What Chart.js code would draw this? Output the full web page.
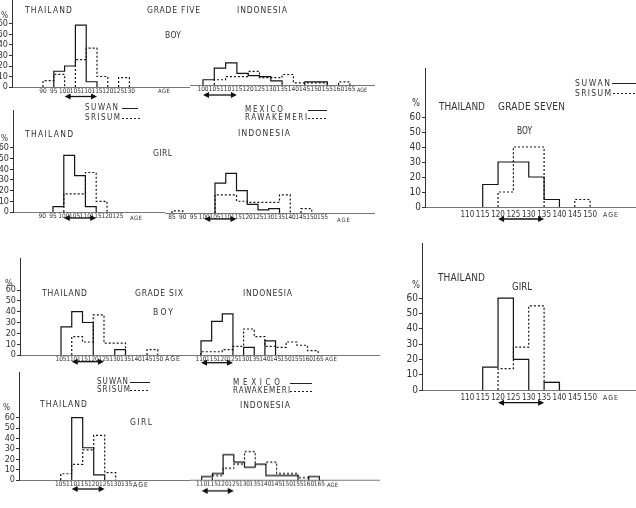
<!DOCTYPE html>
<html><head><meta charset="utf-8">
<script src="https://cdn.jsdelivr.net/npm/chart.js@4"></script>
<style>
html,body{margin:0;padding:0;background:#fff;}
#stage{position:relative;width:636px;height:508px;overflow:hidden;background:#fff;}
#stage canvas{position:absolute;}
.t{position:absolute;white-space:nowrap;color:#333;font-family:'DejaVu Sans Condensed','Liberation Sans Narrow','DejaVu Sans',sans-serif;transform-origin:0 50%;}
.ln{position:absolute;height:1px;background:#222;}
.ln.dot{background:repeating-linear-gradient(90deg,#222 0 2px,transparent 2px 4px);}
</style></head><body><div id="stage"></div>
<script>
// ---------------- DATA ----------------
const yTickValues = [0,10,20,30,40,50,60];

// Grade five, Thailand, boy
const g5ThBoyBins   = [90,95,100,105,110,115,120,125];
const g5ThBoySuwan  = [0,15,20,59,5,0,0,0];
const g5ThBoySrisum = [6,12,0,26,37,10,0,9];
const g5ThBoyTicks  = [90,95,100,105,110,115,120,125,130];
const g5ThBoyRange  = [100,115];

// Grade five, Indonesia, boy
const g5IdBoyBins   = [100,105,110,115,120,125,130,135,140,145,150,155,160];
const g5IdBoyMexico = [5,16,21,11,9,8,4,0,0,3,3,0,0];
const g5IdBoyRawa   = [0,5,8,8,13,7,7,10,2,2,2,0,3];
const g5IdBoyTicks  = [100,105,110,115,120,125,130,135,140,145,150,155,160,165];
const g5IdBoyRange  = [100,115];

// Grade five, Thailand, girl
const g5ThGirlBins   = [95,100,105,110,115];
const g5ThGirlSuwan  = [5,53,34,5,0];
const g5ThGirlSrisum = [0,17,17,37,10];
const g5ThGirlTicks  = [90,95,100,105,110,115,120,125];
const g5ThGirlRange  = [100,115];

// Grade five, Indonesia, girl
const g5IdGirlBins   = [85,90,95,100,105,110,115,120,125,130,135,140,145];
const g5IdGirlMexico = [0,0,0,0,28,37,21,8,3,4,0,0,0];
const g5IdGirlRawa   = [2,0,0,0,17,17,11,10,10,10,17,0,4];
const g5IdGirlTicks  = [85,90,95,100,105,110,115,120,125,130,135,140,145,150,155];
const g5IdGirlRange  = [100,115];

// Grade six, Thailand, boy
const g6ThBoyBins   = [105,110,115,120,125,130,135,140,145];
const g6ThBoySuwan  = [26,40,30,0,0,5,0,0,0];
const g6ThBoySrisum = [0,17,12,37,11,11,0,0,5];
const g6ThBoyTicks  = [105,110,115,120,125,130,135,140,145,150];
const g6ThBoyRange  = [110,125];

// Grade six, Indonesia, boy
const g6IdBoyBins   = [110,115,120,125,130,135,140,145,150,155,160];
const g6IdBoyMexico = [13,31,38,0,7,0,13,0,0,0,0];
const g6IdBoyRawa   = [3,3,5,8,24,17,8,7,12,9,4];
const g6IdBoyTicks  = [110,115,120,125,130,135,140,145,150,155,160,165];
const g6IdBoyRange  = [110,125];

// Grade six, Thailand, girl
const g6ThGirlBins   = [105,110,115,120,125];
const g6ThGirlSuwan  = [0,60,31,5,0];
const g6ThGirlSrisum = [6,15,29,43,7];
const g6ThGirlTicks  = [105,110,115,120,125,130,135];
const g6ThGirlRange  = [110,125];

// Grade six, Indonesia, girl
const g6IdGirlBins   = [110,115,120,125,130,135,140,145,150,155,160];
const g6IdGirlMexico = [3,6,24,17,12,15,4,4,4,0,3];
const g6IdGirlRawa   = [0,4,11,15,27,15,17,6,6,2,0];
const g6IdGirlTicks  = [110,115,120,125,130,135,140,145,150,155,160,165];
const g6IdGirlRange  = [110,125];

// Grade seven, Thailand, boy
const g7ThBoyBins   = [115,120,125,130,135,140,145];
const g7ThBoySuwan  = [15,30,30,20,5,0,0];
const g7ThBoySrisum = [0,10,40,40,0,0,5];
const g7ThBoyTicks  = [110,115,120,125,130,135,140,145,150];
const g7ThBoyRange  = [120,135];

// Grade seven, Thailand, girl
const g7ThGirlBins   = [115,120,125,130,135];
const g7ThGirlSuwan  = [15,60,20,0,5];
const g7ThGirlSrisum = [0,14,28,55,5];
const g7ThGirlTicks  = [110,115,120,125,130,135,140,145,150];
const g7ThGirlRange  = [120,135];

// ---------------- RENDERING ----------------
const FONT = "'DejaVu Sans Condensed','Liberation Sans Narrow','DejaVu Sans',sans-serif";
Chart.defaults.font.family = FONT;
Chart.defaults.color = '#333';
const stage = document.getElementById('stage');
const PAD_TOP = 8;

const arrowPlugin = {
  id: 'rangeArrow',
  afterDraw(chart, args, opts) {
    if (!opts || !opts.range) return;
    const x = chart.scales.x, ctx = chart.ctx;
    const y = chart.chartArea.bottom + opts.offset;
    const a = x.getPixelForValue(opts.range[0]), b = x.getPixelForValue(opts.range[1]);
    ctx.save();
    ctx.strokeStyle = '#111'; ctx.fillStyle = '#111'; ctx.lineWidth = 1.3;
    ctx.beginPath(); ctx.moveTo(a + 3, y); ctx.lineTo(b - 3, y); ctx.stroke();
    ctx.beginPath(); ctx.moveTo(a, y); ctx.lineTo(a + 6, y - 3); ctx.lineTo(a + 6, y + 3); ctx.closePath(); ctx.fill();
    ctx.beginPath(); ctx.moveTo(b, y); ctx.lineTo(b - 6, y - 3); ctx.lineTo(b - 6, y + 3); ctx.closePath(); ctx.fill();
    ctx.restore();
  }
};
Chart.register(arrowPlugin);

function stepData(bins, vals) {
  const pts = []; let i = 0;
  while (i < vals.length) {
    if (!vals[i]) { i++; continue; }
    pts.push({x: bins[i], y: 0});
    while (i < vals.length && vals[i]) { pts.push({x: bins[i], y: vals[i]}); i++; }
    const end = bins[i - 1] + 5;
    pts.push({x: end, y: 0});
    pts.push({x: end, y: null});
  }
  return pts;
}

function panel(p) {
  const W = p.axisX - p.left;
  const top = p.chartTop - PAD_TOP;
  const h = p.base - top + p.H;
  const xMin = p.refVal - (p.refPx - p.axisX) / p.ppu;
  const xMax = xMin + (p.left + p.w - p.axisX) / p.ppu;
  const yMax = (p.base - p.chartTop) / p.ppp;
  const c = document.createElement('canvas');
  c.width = p.w; c.height = h;
  c.style.left = p.left + 'px'; c.style.top = top + 'px';
  c.style.width = p.w + 'px'; c.style.height = h + 'px';
  stage.appendChild(c);
  const hasAxis = W > 0;
  new Chart(c, {
    type: 'line',
    data: {
      datasets: [
        {data: stepData(p.bins, p.s1), borderColor: '#151515', borderWidth: 1.2, stepped: true, pointRadius: 0, clip: false, fill: false},
        {data: stepData(p.bins, p.s2), borderColor: '#151515', borderWidth: 1.2, borderDash: [2, 2], stepped: true, pointRadius: 0, clip: false, fill: false}
      ]
    },
    options: {
      responsive: false, animation: false, devicePixelRatio: 1, events: [],
      layout: {padding: {top: PAD_TOP, left: 0, right: 0, bottom: 0}},
      plugins: {legend: {display: false}, tooltip: {enabled: false}, rangeArrow: {range: p.range, offset: p.arrowOff}},
      scales: {
        x: {
          type: 'linear', min: xMin, max: xMax, bounds: 'data', position: 'bottom',
          grid: {display: false, drawTicks: false},
          border: {display: true, color: '#777', width: 1, dash: [5, 2, 1, 2]},
          ticks: {autoSkip: false, maxRotation: 0, minRotation: 0, padding: p.tickPad || 0, color: '#333', font: {size: p.tickFs}},
          afterBuildTicks: s => { s.ticks = p.ticks.map(v => ({value: v})); },
          afterFit: s => { s.height = p.H; }
        },
        y: {
          type: 'linear', min: 0, max: yMax, bounds: 'data', display: hasAxis,
          grid: {display: true, drawOnChartArea: false, drawTicks: true, tickLength: 3, color: '#333'},
          border: {display: true, color: '#333', width: 1},
          ticks: {padding: 1, color: '#333', font: {size: p.yFs || 9}},
          afterBuildTicks: s => { s.ticks = yTickValues.map(v => ({value: v})); },
          afterFit: s => { s.width = W; }
        }
      }
    }
  });
}

const panels = [
  {left: 0,   axisX: 12,  chartTop: 0,   w: 190, base: 87,    ppp: 1.05,  ppu: 2.16, refVal: 90,  refPx: 43,    H: 16, arrowOff: 9.5,  tickFs: 6.5, yFs: 9,
   bins: g5ThBoyBins, s1: g5ThBoySuwan, s2: g5ThBoySrisum, ticks: g5ThBoyTicks, range: g5ThBoyRange},
  {left: 190, axisX: 190, chartTop: 30,  w: 185, base: 85,    ppp: 1.05,  ppu: 2.26, refVal: 100, refPx: 203,   H: 16, arrowOff: 10,   tickFs: 6.5,
   bins: g5IdBoyBins, s1: g5IdBoyMexico, s2: g5IdBoyRawa, ticks: g5IdBoyTicks, range: g5IdBoyRange},
  {left: 0,   axisX: 13,  chartTop: 110, w: 165, base: 212,   ppp: 1.067, ppu: 2.16, refVal: 95,  refPx: 53,    H: 14, arrowOff: 6,    tickFs: 6.5, yFs: 9,
   bins: g5ThGirlBins, s1: g5ThGirlSuwan, s2: g5ThGirlSrisum, ticks: g5ThGirlTicks, range: g5ThGirlRange},
  {left: 165, axisX: 165, chartTop: 140, w: 210, base: 213,   ppp: 1.07,  ppu: 2.15, refVal: 105, refPx: 215,   H: 14, arrowOff: 6,    tickFs: 6.5,
   bins: g5IdGirlBins, s1: g5IdGirlMexico, s2: g5IdGirlRawa, ticks: g5IdGirlTicks, range: g5IdGirlRange},
  {left: 0,   axisX: 20,  chartTop: 258, w: 190, base: 355,   ppp: 1.083, ppu: 2.15, refVal: 105, refPx: 61,    H: 16, arrowOff: 6.7,  tickFs: 6.5, yFs: 9,
   bins: g6ThBoyBins, s1: g6ThBoySuwan, s2: g6ThBoySrisum, ticks: g6ThBoyTicks, range: g6ThBoyRange},
  {left: 190, axisX: 190, chartTop: 280, w: 190, base: 355,   ppp: 1.083, ppu: 2.13, refVal: 110, refPx: 201,   H: 16, arrowOff: 7.7,  tickFs: 6.5,
   bins: g6IdBoyBins, s1: g6IdBoyMexico, s2: g6IdBoyRawa, ticks: g6IdBoyTicks, range: g6IdBoyRange},
  {left: 0,   axisX: 19,  chartTop: 372, w: 190, base: 480,   ppp: 1.04,  ppu: 2.2,  refVal: 110, refPx: 71.7,  H: 20, arrowOff: 9,    tickFs: 6.5, yFs: 9,
   bins: g6ThGirlBins, s1: g6ThGirlSuwan, s2: g6ThGirlSrisum, ticks: g6ThGirlTicks, range: g6ThGirlRange},
  {left: 190, axisX: 190, chartTop: 440, w: 190, base: 479.5, ppp: 1.04,  ppu: 2.14, refVal: 110, refPx: 201.7, H: 20, arrowOff: 11,   tickFs: 6.5,
   bins: g6IdGirlBins, s1: g6IdGirlMexico, s2: g6IdGirlRawa, ticks: g6IdGirlTicks, range: g6IdGirlRange},
  {left: 405, axisX: 425, chartTop: 68,  w: 231, base: 207,   ppp: 1.5,   ppu: 3.07, refVal: 115, refPx: 482.7, H: 20, arrowOff: 12,   tickFs: 8, tickPad: 3, yFs: 10,
   bins: g7ThBoyBins, s1: g7ThBoySuwan, s2: g7ThBoySrisum, ticks: g7ThBoyTicks, range: g7ThBoyRange},
  {left: 402, axisX: 422, chartTop: 243, w: 234, base: 390.3, ppp: 1.533, ppu: 3.07, refVal: 115, refPx: 482.7, H: 20, arrowOff: 12.7, tickFs: 8, tickPad: 3, yFs: 10,
   bins: g7ThGirlBins, s1: g7ThGirlSuwan, s2: g7ThGirlSrisum, ticks: g7ThGirlTicks, range: g7ThGirlRange}
];
panels.forEach(panel);

// ---------------- TEXT ----------------
const mctx = document.createElement('canvas').getContext('2d');
function label(str, x1, x2, cy, fs) {
  const d = document.createElement('div');
  d.className = 't'; d.textContent = str;
  d.style.fontSize = fs + 'px'; d.style.lineHeight = (fs * 1.2) + 'px';
  mctx.font = fs + 'px ' + FONT;
  const w = mctx.measureText(str).width;
  const target = x2 - x1;
  if (w > target) {
    d.style.transform = 'scaleX(' + (target / w).toFixed(3) + ')';
  } else if (str.length > 1) {
    d.style.letterSpacing = ((target - w) / (str.length - 1)).toFixed(2) + 'px';
  }
  d.style.left = x1 + 'px';
  d.style.top = (cy - fs * 0.6) + 'px';
  stage.appendChild(d);
}
const texts = [
  ['%', 1, 8, 15, 9], ['THAILAND', 25, 72, 10, 8.5], ['GRADE FIVE', 147, 200, 10, 8.5], ['BOY', 165, 181, 35, 8.5],
  ['AGE', 158, 170, 91, 6], ['INDONESIA', 237, 287, 10, 8.5], ['AGE', 357, 367, 90, 6],
  ['SUWAN', 85, 118, 108, 8], ['SRISUM', 85, 120, 118, 8], ['%', 1, 8, 138, 9], ['THAILAND', 25, 73, 134, 8.5],
  ['GIRL', 153, 172, 153, 8.5], ['AGE', 130, 142, 218, 6],
  ['MEXICO', 245, 283, 110, 8], ['RAWAKEMERI', 245, 307, 118, 8], ['INDONESIA', 238, 290, 133, 8.5], ['AGE', 337, 350, 220, 6],
  ['%', 5, 13, 283, 9], ['THAILAND', 42, 87, 293, 8.5], ['GRADE SIX', 135, 183, 293, 8.5], ['BOY', 153, 173, 312, 8.5],
  ['AGE', 165, 180, 359, 7], ['INDONESIA', 243, 292, 293, 8.5], ['AGE', 325, 337, 359, 6],
  ['SUWAN', 97, 128, 382, 8], ['SRISUM', 97, 130, 390, 8], ['%', 3, 10, 407, 9], ['THAILAND', 40, 87, 404, 8.5],
  ['GIRL', 130, 152, 422, 8.5], ['AGE', 133, 148, 485, 7],
  ['MEXICO', 233, 280, 383, 8], ['RAWAKEMERI', 233, 290, 391, 8], ['INDONESIA', 240, 290, 405, 8.5], ['AGE', 327, 338, 485, 6],
  ['SUWAN', 575, 610, 83, 8.5], ['SRISUM', 575, 611, 93, 8.5], ['%', 412, 420, 103, 10], ['THAILAND', 439, 485, 107, 10],
  ['GRADE SEVEN', 498, 565, 107, 10], ['BOY', 517, 532, 131, 10], ['AGE', 603, 618, 215, 7],
  ['THAILAND', 438, 485, 278, 10], ['GIRL', 512, 532, 287, 10], ['%', 412, 420, 285, 10], ['AGE', 603, 618, 398, 7]
];
texts.forEach(t => label(...t));
const legendLines = [
  [122, 138, 108, 'solid'], [122, 140, 118, 'dot'],
  [308, 327, 110, 'solid'], [308, 327, 118, 'dot'],
  [130, 150, 382, 'solid'], [130, 150, 390, 'dot'],
  [290, 312, 383, 'solid'], [290, 312, 391, 'dot'],
  [612, 636, 83, 'solid'], [613, 636, 93, 'dot']
];
legendLines.forEach(([x1, x2, y, k]) => {
  const d = document.createElement('div');
  d.className = 'ln' + (k === 'dot' ? ' dot' : '');
  d.style.left = x1 + 'px'; d.style.top = y + 'px'; d.style.width = (x2 - x1) + 'px';
  stage.appendChild(d);
});
</script></body></html>
